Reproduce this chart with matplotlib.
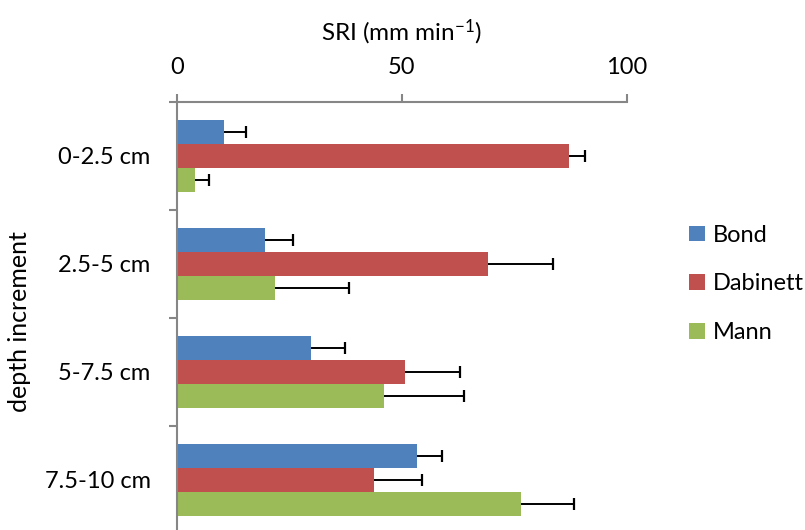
import matplotlib
matplotlib.use("Agg")
import matplotlib.pyplot as plt
import numpy as np

categories = ["0-2.5 cm", "2.5-5 cm", "5-7.5 cm", "7.5-10 cm"]
series_names = ["Bond", "Dabinett", "Mann"]
bond = [10.5, 19.6, 29.7, 53.3]
dabinett = [87.2, 69.2, 50.6, 43.7]
mann = [4.1, 21.8, 46.0, 76.5]
bond_err = [4.8, 6.2, 7.7, 5.7]
dabinett_err = [3.5, 14.5, 12.3, 10.7]
mann_err = [3.0, 16.5, 17.8, 11.8]
x_ticks = [0, 50, 100]

colors = ["#4F81BD", "#C0504D", "#9BBB59"]
values = [bond, dabinett, mann]
errors = [bond_err, dabinett_err, mann_err]

plt.rcParams['font.family'] = ['Lato', 'DejaVu Sans']

fig = plt.figure(figsize=(8.05, 5.30), dpi=100)
ax = fig.add_axes([177/805, -4/530, 449.7/805, 432/530])

n = len(categories)
y = np.arange(n)
h = 0.667 / 3
for i, (vals, errs, c, name) in enumerate(zip(values, errors, colors, series_names)):
    pos = y - h + i * h
    vals = np.array(vals)
    ends = vals + np.array(errs)
    ax.barh(pos, vals, height=h, color=c, label=name, edgecolor='none', zorder=2)
    ax.hlines(pos, vals, ends, colors='black', linewidth=1.4, zorder=3)
    ax.plot(ends, pos, ls='none', marker='|', markersize=9, markeredgewidth=1.6,
            color='black', zorder=3)

ax.set_xlim(0, 100)
ax.set_ylim(n - 0.5, -0.5)
ax.xaxis.tick_top()
ax.xaxis.set_label_position('top')
ax.set_xticks(x_ticks)
ax.set_xticklabels([str(t) for t in x_ticks])
ax.set_yticks(y)
ax.set_yticklabels(categories)
ax.set_yticks(np.arange(n + 1) - 0.5, minor=True)
ax.tick_params(axis='y', which='major', length=0, pad=19, labelsize=17)
ax.tick_params(axis='y', which='minor', length=6, color='#868686', width=1.5, direction='out')
ax.tick_params(axis='x', which='major', length=6, color='#868686', width=1.5, direction='out',
               pad=11, labelsize=17)
for s in ['right', 'bottom']:
    ax.spines[s].set_visible(False)
for s in ['left', 'top']:
    ax.spines[s].set_color('#868686')
    ax.spines[s].set_linewidth(1.5)

ax.set_xlabel(r'SRI (mm min$\mathregular{^{-1}}$)', fontsize=17.5, labelpad=12)
fig.text(20/805, 1 - 322/530, 'depth increment', rotation=90, fontsize=18,
         ha='center', va='center')

handles, labels = ax.get_legend_handles_labels()
leg = fig.legend(handles, labels, loc='center left', bbox_to_anchor=(668/805, 1 - 284/530),
                 frameon=False, fontsize=17, handlelength=0.65, handleheight=0.65,
                 handletextpad=0.35, labelspacing=1.17)

fig.savefig('out.png', dpi=100)
